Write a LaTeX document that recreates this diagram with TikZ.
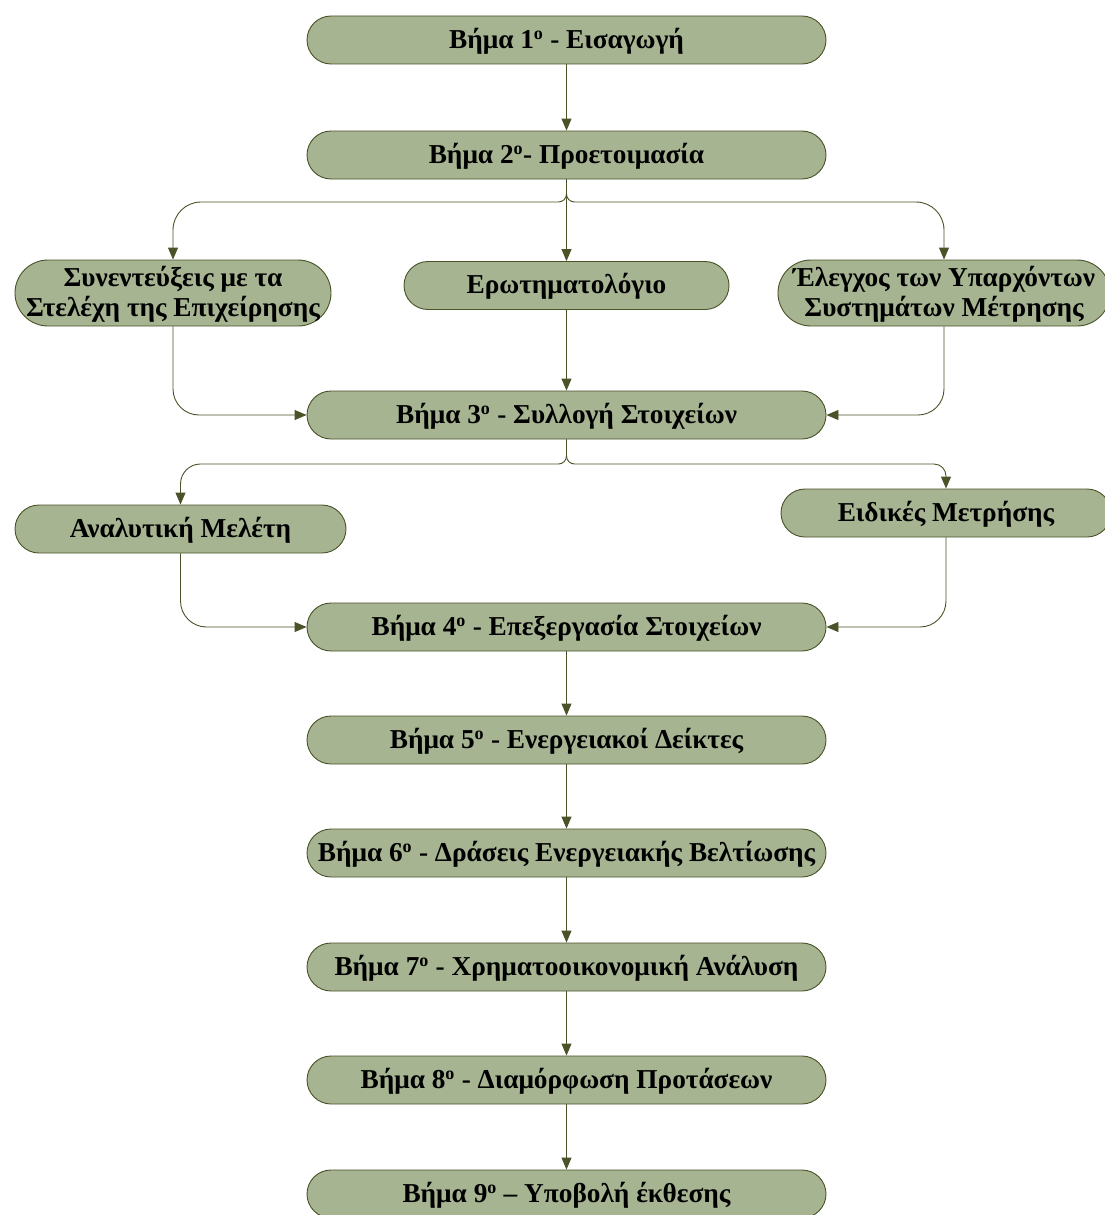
\documentclass[tikz,border=0pt]{standalone}
\usepackage{fontspec}
\setmainfont{Liberation Serif}
\usetikzlibrary{arrows.meta}
\definecolor{sage}{RGB}{166,180,146}
\definecolor{olive}{RGB}{74,82,40}
\tikzset{
  box/.style={draw=olive, line width=0.9pt, fill=sage, rounded corners=24pt,
    minimum height=48pt, inner sep=0pt,
    font=\fontsize{27.3}{29.5}\selectfont\bfseries},
  tallbox/.style={box, rounded corners=33pt, minimum height=66pt},
  arr/.style={draw=olive, line width=0.9pt,
    -{Triangle[length=12pt,width=10pt]}},
}
% centred label text, allowed to overhang the shape, set a little low
\newcommand{\lines}[1]{\makebox[0pt]{\raisebox{0pt}[\dimexpr\height+5pt\relax][\depth]{\begin{tabular}{@{}c@{}}#1\end{tabular}}}}
\newcommand{\ord}{\textsuperscript{\fontsize{18}{18}\selectfont o}}
\begin{document}
\begin{tikzpicture}[x=1pt,y=-1pt]
\useasboundingbox (0,0) rectangle (1105,1215);

% main chain of steps
\node[box, minimum width=519pt] (s1) at (566.5,40)  {\lines{Βήμα 1\ord{} - Εισαγωγή}};
\node[box, minimum width=519pt] (s2) at (566.5,155) {\lines{Βήμα 2\ord- Προετοιμασία}};
\node[box, minimum width=519pt] (s3) at (566.5,415) {\lines{Βήμα 3\ord{} - Συλλογή Στοιχείων}};
\node[box, minimum width=519pt] (s4) at (566.5,627) {\lines{Βήμα 4\ord{} - Επεξεργασία Στοιχείων}};
\node[box, minimum width=519pt] (s5) at (566.5,740) {\lines{Βήμα 5\ord{} - Ενεργειακοί Δείκτες}};
\node[box, minimum width=519pt] (s6) at (566.5,853) {\lines{Βήμα 6\ord{} - Δράσεις Ενεργειακής Βελτίωσης}};
\node[box, minimum width=519pt] (s7) at (566.5,967) {\lines{Βήμα 7\ord{} - Χρηματοοικονομική Ανάλυση}};
\node[box, minimum width=519pt] (s8) at (566.5,1080) {\lines{Βήμα 8\ord{} - Διαμόρφωση Προτάσεων}};
\node[box, minimum width=519pt] (s9) at (566.5,1194) {\lines{Βήμα 9\ord{} – Υποβολή έκθεσης}};

% data collection sources
\node[tallbox, minimum width=316pt] (n1) at (173,293) {\lines{Συνεντεύξεις με τα\\Στελέχη της Επιχείρησης}};
\node[box, minimum width=325pt] (n2) at (566.5,285.5) {\lines{Ερωτηματολόγιο}};
\node[tallbox, minimum width=332pt] (n3) at (944,293) {\lines{Έλεγχος των Υπαρχόντων\\Συστημάτων Μέτρησης}};

% processing inputs
\node[box, minimum width=331pt] (n4) at (180.5,529) {\lines{Αναλυτική Μελέτη}};
\node[box, minimum width=330pt] (n5) at (946,513) {\lines{Ειδικές Μετρήσης}};

% branch points
\coordinate (b1) at (566.5,202);
\coordinate (b2) at (566.5,464);

% connectors
\draw[arr] (s1.south) -- (s2.north);

\draw[arr] (s2.south) [rounded corners=8pt] -- (b1) [rounded corners=28pt] -- (n1.north |- b1) -- (n1.north);
\draw[arr] (s2.south) [rounded corners=8pt] -- (b1) [rounded corners=28pt] -- (n3.north |- b1) -- (n3.north);
\draw[arr] (s2.south) -- (n2.north);

\draw[arr, rounded corners=26pt] (n1.south) |- (s3.west);
\draw[arr] (n2.south) -- (s3.north);
\draw[arr, rounded corners=26pt] (n3.south) |- (s3.east);

\draw[arr] (s3.south) [rounded corners=8pt] -- (b2) [rounded corners=20pt] -- (n4.north |- b2) -- (n4.north);
\draw[arr] (s3.south) [rounded corners=8pt] -- (b2) [rounded corners=12pt] -- (n5.north |- b2) -- (n5.north);

\draw[arr, rounded corners=26pt] (n4.south) |- (s4.west);
\draw[arr, rounded corners=26pt] (n5.south) |- (s4.east);

\draw[arr] (s4.south) -- (s5.north);
\draw[arr] (s5.south) -- (s6.north);
\draw[arr] (s6.south) -- (s7.north);
\draw[arr] (s7.south) -- (s8.north);
\draw[arr] (s8.south) -- (s9.north);
\end{tikzpicture}
\end{document}
